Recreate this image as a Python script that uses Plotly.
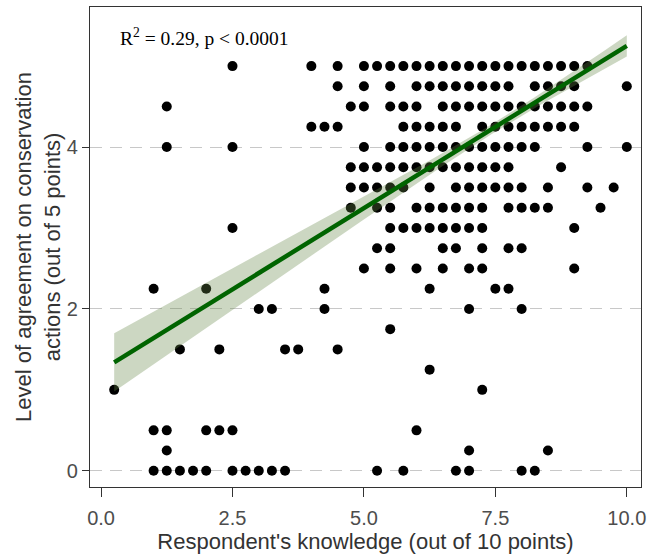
import numpy as np
import plotly.graph_objects as go

# agreement level (y) -> list of knowledge scores (x) observed at that level
rows = {
    5.0: [2.5, 4.0, 4.5, 5.0, 5.25, 5.5, 5.75, 6.0, 6.25, 6.5, 6.75, 7.0, 7.25, 7.5, 7.75, 8.0, 8.25, 8.5, 8.75, 9.0, 9.25],
    4.75: [4.5, 5.0, 5.5, 6.0, 6.25, 6.5, 6.75, 7.0, 7.25, 7.5, 7.75, 8.25, 8.5, 8.75, 9.0, 10.0],
    4.5: [1.25, 4.75, 5.0, 5.5, 5.75, 6.0, 6.5, 6.75, 7.0, 7.25, 7.5, 7.75, 8.0, 8.25, 8.5, 8.75, 9.0, 9.25],
    4.25: [4.0, 4.25, 4.5, 5.75, 6.0, 6.25, 6.5, 6.75, 7.25, 7.5, 7.75, 8.0, 8.25, 8.5, 8.75, 9.0],
    4.0: [1.25, 2.5, 5.0, 5.5, 5.75, 6.0, 6.25, 6.5, 6.75, 7.0, 7.25, 7.5, 7.75, 8.0, 8.25, 9.25, 10.0],
    3.75: [4.75, 5.0, 5.25, 5.5, 5.75, 6.0, 6.25, 6.5, 6.75, 7.0, 7.25, 7.5, 7.75, 8.75],
    3.5: [4.75, 5.0, 5.25, 5.5, 5.75, 6.25, 6.75, 7.0, 7.25, 7.5, 7.75, 8.0, 8.5, 9.25, 9.75],
    3.25: [4.75, 5.25, 5.5, 6.0, 6.25, 6.5, 6.75, 7.0, 7.25, 7.75, 8.0, 8.25, 8.5, 9.5],
    3.0: [2.5, 5.5, 5.75, 6.0, 6.25, 6.5, 6.75, 7.0, 7.25, 9.0],
    2.75: [5.25, 5.5, 6.5, 6.75, 7.25, 7.75, 8.0],
    2.5: [5.0, 5.5, 6.0, 6.5, 7.0, 7.25, 9.0],
    2.25: [1.0, 2.0, 4.25, 6.25, 7.5, 7.75],
    2.0: [3.0, 3.25, 4.25, 7.0, 8.0],
    1.75: [5.5],
    1.5: [1.5, 2.25, 3.5, 3.75, 4.5],
    1.25: [6.25],
    1.0: [0.25, 7.25],
    0.5: [1.0, 1.25, 2.0, 2.25, 2.5, 6.0],
    0.25: [1.25, 7.0, 8.5],
    0.0: [1.0, 1.25, 1.5, 1.75, 2.0, 2.5, 2.75, 3.0, 3.25, 3.5, 5.25, 5.75, 6.75, 7.0, 8.0, 8.25],
}

knowledge = [x for yv, xs in rows.items() for x in xs]
agreement = [yv for yv, xs in rows.items() for x in xs]

# regression line (fitted on the full, overplotted data)
fit_intercept = 1.24
fit_slope = 0.401
ci_low_end = 0.36   # half-width of 95% CI at x = 0.25
ci_high_end = 0.13  # half-width of 95% CI at x = 10
ci_min = 0.06       # half-width at the data centre

x_ticks = [0, 2.5, 5, 7.5, 10]
x_ticklabels = ["0.0", "2.5", "5.0", "7.5", "10.0"]
y_ticks = [0, 2, 4]
annotation_text = "R<sup>2</sup> = 0.29, p < 0.0001"

# CI band shaped like an OLS confidence hyperbola
x0, x1 = min(knowledge), max(knowledge)
xs = np.linspace(x0, x1, 100)
a = ci_min ** 2
r = np.sqrt((ci_low_end ** 2 - a) / (ci_high_end ** 2 - a))
c = (x0 + r * x1) / (1 + r)
b = (ci_low_end ** 2 - a) / (x0 - c) ** 2
half = np.sqrt(a + b * (xs - c) ** 2)
yfit = fit_intercept + fit_slope * xs

fig = go.Figure()
fig.add_trace(go.Scatter(
    x=knowledge, y=agreement, mode="markers",
    marker=dict(color="black", size=10, line=dict(width=0)),
    showlegend=False, hoverinfo="skip"))
fig.add_trace(go.Scatter(
    x=np.concatenate([xs, xs[::-1]]), y=np.concatenate([yfit + half, (yfit - half)[::-1]]),
    fill="toself", fillcolor="rgba(100,135,70,0.33)", line=dict(width=0),
    mode="lines", showlegend=False, hoverinfo="skip"))
fig.add_trace(go.Scatter(
    x=xs, y=yfit, mode="lines", line=dict(color="#006400", width=4.5),
    showlegend=False, hoverinfo="skip"))

fig.add_annotation(
    x=0.32, y=5.36, xref="x", yref="y", text=annotation_text, showarrow=False,
    xanchor="left", yanchor="middle",
    font=dict(family="Liberation Serif", size=19.5, color="black"))

axis_common = dict(
    showline=True, linecolor="#333333", linewidth=1.3, mirror=True,
    ticks="outside", tickwidth=1.3, tickcolor="#333333",
    tickfont=dict(family="Liberation Sans", size=20, color="#4d4d4d"),
    zeroline=False, automargin=False,
)

fig.update_layout(
    width=661, height=554,
    margin=dict(l=90, r=20, t=7, b=67),
    paper_bgcolor="white", plot_bgcolor="white",
    xaxis=dict(
        range=[-0.21, 10.27], tickvals=x_ticks, ticktext=x_ticklabels,
        showgrid=False, ticklen=9, ticklabelstandoff=4,
        title=dict(text="Respondent's knowledge (out of 10 points)", standoff=0,
                   font=dict(family="Liberation Sans", size=22, color="#333333")),
        **axis_common),
    yaxis=dict(
        range=[-0.2, 5.73], tickvals=y_ticks, ticklen=7,
        showgrid=True, gridcolor="#c8c8c8", gridwidth=1.2, griddash="12px,8px",
        title=dict(text="Level of agreement on conservation<br>actions (out of 5 points)",
                   standoff=0,
                   font=dict(family="Liberation Sans", size=22, color="#333333")),
        **axis_common),
)

fig.write_html("out.html", config={"displayModeBar": False},
               post_script="document.body.style.margin='0';")
